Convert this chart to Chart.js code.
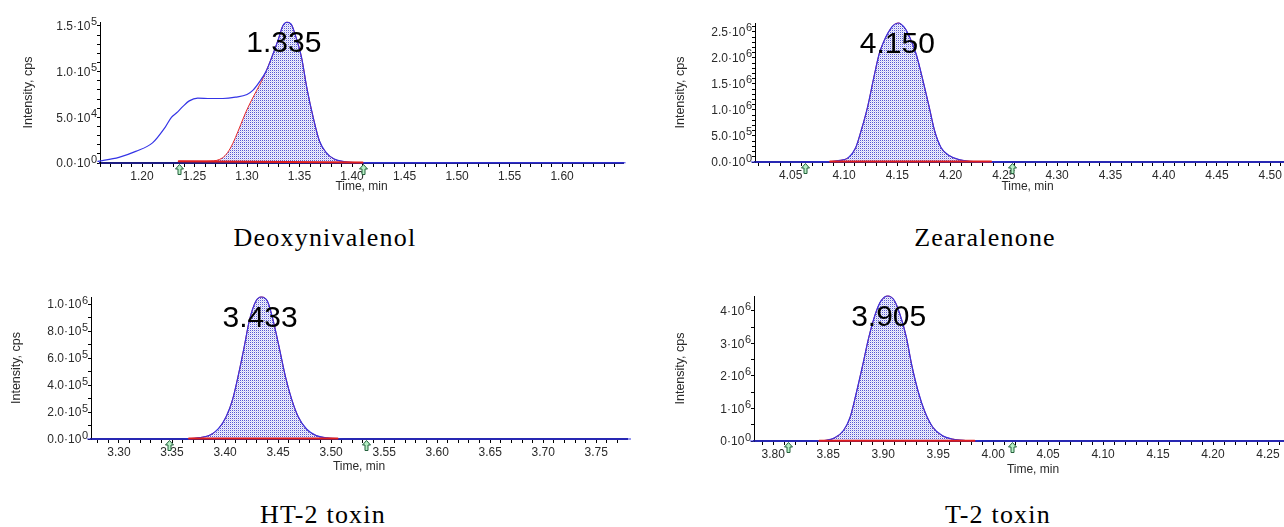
<!DOCTYPE html>
<html><head><meta charset="utf-8">
<script src="https://cdn.jsdelivr.net/npm/chart.js@4.4.1/dist/chart.umd.min.js"></script>
<style>
html,body{margin:0;padding:0;background:#fff;width:1284px;height:527px;overflow:hidden;position:relative}
canvas{position:absolute}
.cap{position:absolute;font-family:"Liberation Serif","DejaVu Serif",serif;font-size:26px;letter-spacing:1.2px;color:#000;white-space:nowrap;transform:translateX(-50%);line-height:26px}
</style></head><body>
<canvas id="c1" style="left:0px;top:0px" width="640" height="200"></canvas>
<canvas id="c2" style="left:640px;top:0px" width="680" height="200"></canvas>
<canvas id="c3" style="left:0px;top:280px" width="640" height="200"></canvas>
<canvas id="c4" style="left:640px;top:280px" width="680" height="200"></canvas>
<div class="cap" style="left:325px;top:225px">Deoxynivalenol</div>
<div class="cap" style="left:985px;top:225px">Zearalenone</div>
<div class="cap" style="left:323px;top:502px">HT-2 toxin</div>
<div class="cap" style="left:998px;top:502px">T-2 toxin</div>
<script>
// ---------- Deoxynivalenol ----------
const donTime = [1.158,1.178,1.194,1.210,1.222,1.228,1.233,1.239,1.245,1.253,1.265,1.277,1.289,1.300,1.306,1.312,1.318,1.324,1.330,1.334,1.338,1.342,1.346,1.352,1.357,1.363,1.369,1.375,1.383,1.393,1.407,1.420,1.500,1.600,1.660];
const donIntensity = [1800,6200,12700,22000,39000,50000,55000,62000,68000,71000,70600,70600,72000,75000,80000,89000,100000,117000,136000,150000,154000,152000,140000,115000,82000,50000,24000,12000,4300,1400,400,300,300,300,300];
const donEdgeTime = [1.235,1.255,1.268,1.274,1.279,1.284,1.289,1.294,1.299,1.304,1.309,1.314,1.318];
const donEdgeIntensity = [1800,1900,2300,4000,8000,16000,28000,42000,56000,68000,79000,90000,100000];
const donBaseTime = [1.235,1.410];
const donBaseIntensity = [1800,500];
const donMarkers = [1.235,1.410];
const donPeakTime = 1.335, donPeakLabel = '1.335';
const donXTicks = ['1.20','1.25','1.30','1.35','1.40','1.45','1.50','1.55','1.60'];
const donYTicks = [0,50000,100000,150000];
const donYLabels = ['0.0·10^0','5.0·10^4','1.0·10^5','1.5·10^5'];

// ---------- Zearalenone ----------
const zenTime = [4.010,4.060,4.080,4.087,4.096,4.104,4.111,4.116,4.122,4.128,4.133,4.137,4.141,4.146,4.151,4.156,4.160,4.164,4.168,4.174,4.180,4.185,4.191,4.199,4.209,4.218,4.230,4.240,4.260,4.540];
const zenIntensity = [0,0,2000,5000,30000,84000,280000,600000,1050000,1630000,2080000,2300000,2470000,2620000,2670000,2600000,2470000,2280000,2050000,1570000,1050000,600000,280000,120000,40000,12000,3000,1000,0,0];
const zenBaseTime = [4.087,4.238];
const zenBaseIntensity = [8000,8000];
const zenMarkers = [4.063,4.258];
const zenPeakTime = 4.150, zenPeakLabel = '4.150';
const zenXTicks = ['4.05','4.10','4.15','4.20','4.25','4.30','4.35','4.40','4.45','4.50'];
const zenYTicks = [0,500000,1000000,1500000,2000000,2500000];
const zenYLabels = ['0.0·10^0','5.0·10^5','1.0·10^6','1.5·10^6','2.0·10^6','2.5·10^6'];

// ---------- HT-2 toxin ----------
const ht2Time = [3.270,3.360,3.366,3.376,3.386,3.394,3.401,3.407,3.413,3.418,3.423,3.429,3.434,3.440,3.445,3.451,3.457,3.463,3.469,3.477,3.486,3.496,3.506,3.520,3.790];
const ht2Intensity = [0,0,1000,10000,30000,79000,165000,290000,490000,680000,880000,1020000,1052000,1020000,890000,680000,460000,290000,165000,72000,25000,8000,2000,0,0];
const ht2BaseTime = [3.366,3.506];
const ht2BaseIntensity = [3000,3000];
const ht2Markers = [3.347,3.533];
const ht2PeakTime = 3.433, ht2PeakLabel = '3.433';
const ht2XTicks = ['3.30','3.35','3.40','3.45','3.50','3.55','3.60','3.65','3.70','3.75'];
const ht2YTicks = [0,200000,400000,600000,800000,1000000];
const ht2YLabels = ['0.0·10^0','2.0·10^5','4.0·10^5','6.0·10^5','8.0·10^5','1.0·10^6'];

// ---------- T-2 toxin ----------
const t2Time = [3.775,3.830,3.840,3.848,3.856,3.864,3.870,3.875,3.881,3.887,3.893,3.898,3.904,3.910,3.915,3.921,3.926,3.932,3.938,3.945,3.954,3.963,3.975,3.983,4.000,4.300];
const t2Intensity = [0,0,2000,20000,100000,330000,740000,1400000,2280000,3200000,3920000,4310000,4460000,4330000,3920000,3200000,2330000,1500000,890000,430000,160000,60000,15000,5000,0,0];
const t2BaseTime = [3.842,3.983];
const t2BaseIntensity = [10000,10000];
const t2Markers = [3.813,4.017];
const t2PeakTime = 3.905, t2PeakLabel = '3.905';
const t2XTicks = ['3.80','3.85','3.90','3.95','4.00','4.05','4.10','4.15','4.20','4.25'];
const t2YTicks = [0,1000000,2000000,3000000,4000000];
const t2YLabels = ['0·10^0','1·10^6','2·10^6','3·10^6','4·10^6'];

const FONT = '"Liberation Sans", Arial, sans-serif';
Chart.defaults.font.family = FONT;
Chart.defaults.font.size = 12;
Chart.defaults.color = '#2a2a2a';

function pts(t, v) { return t.map((x, i) => ({x: x, y: v[i]})); }

function regionPoints(edgeT, edgeV, traceT, traceV, baseT, baseV) {
  const start = baseT[0], end = baseT[baseT.length - 1];
  let out = [];
  let from = start;
  if (edgeT && edgeT.length) { out = pts(edgeT, edgeV); from = edgeT[edgeT.length - 1]; }
  else out.push({x: start, y: baseV[0]});
  traceT.forEach((t, i) => { if (t > from && t < end) out.push({x: t, y: traceV[i]}); });
  out.push({x: end, y: baseV[baseV.length - 1]});
  return out;
}

// evenly spaced tick positions (axis marks only) between min and max
function tickValues(min, max, step) {
  const out = [];
  const k0 = Math.ceil(min / step - 1e-6), k1 = Math.floor(max / step + 1e-6);
  for (let k = k0; k <= k1; k++) out.push({value: +(k * step).toPrecision(10)});
  return out;
}

function makePattern(ctx) {
  const c = document.createElement('canvas'); c.width = 2; c.height = 2;
  const g = c.getContext('2d');
  g.fillStyle = '#f2f2fd'; g.fillRect(0, 0, 2, 2);
  g.fillStyle = '#5656d2'; g.fillRect(0, 0, 1, 1);
  g.fillStyle = '#d2d2f4'; g.fillRect(1, 1, 1, 1);
  return ctx.createPattern(c, 'repeat');
}

function annot(d) {
  return {
    id: 'annot',
    afterDatasetsDraw(chart) {
      const ctx = chart.ctx, xs = chart.scales.x, a = chart.chartArea;
      ctx.save();
      d.markers.forEach(t => {
        const x = Math.round(xs.getPixelForValue(t)) + 0.5, y = a.bottom + 1.5;
        ctx.beginPath();
        ctx.moveTo(x, y); ctx.lineTo(x + 4, y + 4.5); ctx.lineTo(x + 1.5, y + 4.5);
        ctx.lineTo(x + 1.5, y + 10); ctx.lineTo(x - 1.5, y + 10); ctx.lineTo(x - 1.5, y + 4.5);
        ctx.lineTo(x - 4, y + 4.5); ctx.closePath();
        ctx.fillStyle = '#b6efc4'; ctx.fill();
        ctx.strokeStyle = '#24603c'; ctx.lineWidth = 1; ctx.stroke();
      });
      ctx.font = '30px ' + FONT;
      ctx.fillStyle = '#000'; ctx.textAlign = 'center'; ctx.textBaseline = 'alphabetic';
      ctx.fillText(d.peakLabel, xs.getPixelForValue(d.peakT), a.top + 30);
      ctx.restore();
    },
    afterDraw(chart) {
      // y tick labels with raised exponent
      const ctx = chart.ctx, ys = chart.scales.y, a = chart.chartArea;
      ctx.save();
      ctx.fillStyle = '#2a2a2a'; ctx.textAlign = 'left'; ctx.textBaseline = 'alphabetic';
      d.yTicks.forEach((v, i) => {
        const parts = d.yLabels[i].split('^');
        const y = ys.getPixelForValue(v);
        ctx.font = '11px ' + FONT; const w2 = ctx.measureText(parts[1]).width;
        ctx.font = '12px ' + FONT; const w1 = ctx.measureText(parts[0]).width;
        const xr = a.left - 3;
        ctx.fillText(parts[0], xr - w2 - w1 - 0.5, y + 4.3);
        ctx.font = '11px ' + FONT;
        ctx.fillText(parts[1], xr - w2, y - 0.5);
      });
      ctx.restore();
    }
  };
}

function makeChart(id, d, L) {
  const canvas = document.getElementById(id);
  const pattern = makePattern(canvas.getContext('2d'));
  const isMajorX = v => d.xTicks.indexOf(v.toFixed(2)) >= 0 && Math.abs(v * 20 - Math.round(v * 20)) < 1e-6;
  return new Chart(canvas, {
    type: 'line',
    data: {
      datasets: [
        { data: pts(d.baseT, d.baseV), borderColor: '#e01e1e', borderWidth: 2, order: 0, clip: 4 },
        { data: regionPoints(d.edgeT, d.edgeV, d.time, d.inten, d.baseT, d.baseV), borderColor: '#e82828',
          borderWidth: 1, backgroundColor: pattern, fill: '-1', order: 2, cubicInterpolationMode: 'monotone', clip: 4 },
        { data: pts(d.time, d.inten), borderColor: '#3434e6', borderWidth: 1.2, order: 1,
          cubicInterpolationMode: 'monotone', clip: 4 }
      ]
    },
    options: {
      responsive: false, animation: false,
      elements: { point: { radius: 0 }, line: { borderCapStyle: 'round', borderJoinStyle: 'round' } },
      layout: { padding: { top: L.padTop, right: L.padRight, left: 0, bottom: 0 } },
      plugins: { legend: { display: false }, tooltip: { enabled: false } },
      scales: {
        x: {
          type: 'linear', min: d.xMin, max: d.xMax,
          border: { display: true, color: '#1c1c80', width: 2 },
          grid: { drawOnChartArea: false, drawTicks: true, tickLength: 4, color: '#000' },
          afterBuildTicks: s => { s.ticks = tickValues(d.xMin, d.xMax, 0.01); },
          ticks: { autoSkip: false, maxRotation: 0, minRotation: 0, padding: 2, color: '#2a2a2a',
                   callback: v => isMajorX(v) ? v.toFixed(2) : '' },
          title: { display: true, text: 'Time, min', color: '#2a2a2a', font: { size: 12 },
                   padding: { top: 0, bottom: L.xTitlePad } },
          afterFit: s => { s.height = L.xHeight; }
        },
        y: {
          type: 'linear', min: 0, max: d.yMax,
          border: { display: true, color: '#000', width: 1 },
          grid: { drawOnChartArea: false, drawTicks: true, tickLength: 3, color: '#000' },
          afterBuildTicks: s => { s.ticks = tickValues(0, d.yMax, d.yStep); },
          ticks: { autoSkip: false, padding: 1, callback: () => '' },
          title: { display: true, text: 'Intensity, cps', color: '#2a2a2a', font: { size: 12.5 },
                   padding: { top: L.yTitlePad, bottom: 0 } },
          afterFit: s => { s.width = L.yWidth; }
        }
      }
    },
    plugins: [annot(d)]
  });
}

makeChart('c1', { time: donTime, inten: donIntensity, edgeT: donEdgeTime, edgeV: donEdgeIntensity,
  baseT: donBaseTime, baseV: donBaseIntensity, markers: donMarkers, peakT: donPeakTime, peakLabel: donPeakLabel,
  xMin: 1.16, xMax: 1.658, xTicks: donXTicks, yMax: 154300, yStep: 10000, yTicks: donYTicks, yLabels: donYLabels },
  { padTop: 22, padRight: 17, yWidth: 100, xHeight: 37, yTitlePad: 21, xTitlePad: 6 });

makeChart('c2', { time: zenTime, inten: zenIntensity, edgeT: null, edgeV: null,
  baseT: zenBaseTime, baseV: zenBaseIntensity, markers: zenMarkers, peakT: zenPeakTime, peakLabel: zenPeakLabel,
  xMin: 4.0164, xMax: 4.528, xTicks: zenXTicks, yMax: 2670000, yStep: 100000, yTicks: zenYTicks, yLabels: zenYLabels },
  { padTop: 23, padRight: 20, yWidth: 115, xHeight: 38, yTitlePad: 33, xTitlePad: 6 });

makeChart('c3', { time: ht2Time, inten: ht2Intensity, edgeT: null, edgeV: null,
  baseT: ht2BaseTime, baseV: ht2BaseIntensity, markers: ht2Markers, peakT: ht2PeakTime, peakLabel: ht2PeakLabel,
  xMin: 3.2736, xMax: 3.779, xTicks: ht2XTicks, yMax: 1052000, yStep: 100000, yTicks: ht2YTicks, yLabels: ht2YLabels },
  { padTop: 17, padRight: 13, yWidth: 91, xHeight: 41, yTitlePad: 9.5, xTitlePad: 6 });

makeChart('c4', { time: t2Time, inten: t2Intensity, edgeT: null, edgeV: null,
  baseT: t2BaseTime, baseV: t2BaseIntensity, markers: t2Markers, peakT: t2PeakTime, peakLabel: t2PeakLabel,
  xMin: 3.7825, xMax: 4.29, xTicks: t2XTicks, yMax: 4460000, yStep: 500000, yTicks: t2YTicks, yLabels: t2YLabels },
  { padTop: 16, padRight: 8, yWidth: 114, xHeight: 39, yTitlePad: 33, xTitlePad: 3 });
</script>
</body></html>
